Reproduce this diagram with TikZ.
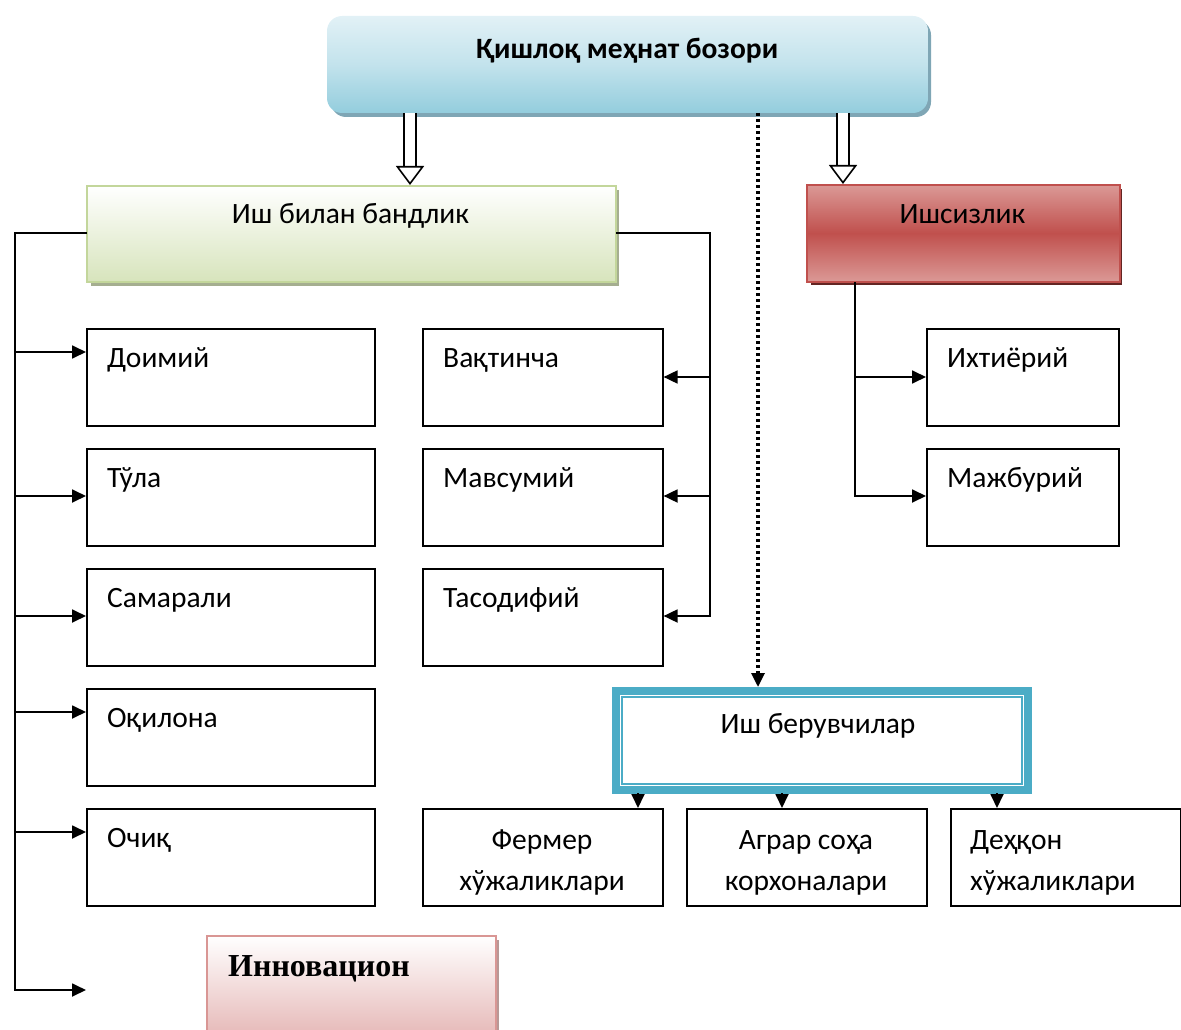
\documentclass[tikz,border=0pt]{standalone}
\usepackage{fontspec}
\setmainfont{Carlito}
\newfontfamily\serifb{Liberation Serif}
\usetikzlibrary{arrows.meta,calc}
\definecolor{bluetop}{HTML}{E2F1F6}
\definecolor{bluebot}{HTML}{93CDDD}
\definecolor{blueshadow}{HTML}{7FA6B5}
\definecolor{greentop}{HTML}{FFFFFF}
\definecolor{greenbot}{HTML}{D7E4BC}
\definecolor{greenedge}{HTML}{C3D69B}
\definecolor{greenshadow}{HTML}{A5AE90}
\definecolor{redlight}{HTML}{DB9996}
\definecolor{redmid}{HTML}{C0504D}
\definecolor{redshadow}{HTML}{632523}
\definecolor{pinktop}{HTML}{FFFFFF}
\definecolor{pinkbot}{HTML}{E6B9B8}
\definecolor{pinkedge}{HTML}{D99694}
\definecolor{pinkshadow}{HTML}{B89896}
\definecolor{tealedge}{HTML}{4BACC6}
\tikzset{
  x=1pt, y=-1pt,
  every node/.style={font=\fontsize{29.5}{42}\selectfont, inner sep=0pt},
  plainbox/.style={draw=black, line width=1.6pt, fill=white, anchor=north west},
  boxlab/.style={anchor=base west, xshift=21pt},
  conn/.style={line width=1.8pt, line cap=rect},
  arr/.style={conn, -{Triangle[length=14pt,width=13pt]}},
  hollow/.style={double=white, double distance=10.5pt, line width=1.6pt,
     -{Triangle[open, length=19pt, width=28pt, line width=1.6pt]}},
  dotline/.style={line width=3.2pt, dash pattern=on 3pt off 3pt,
     -{Triangle[length=14pt,width=13pt]}},
}
\begin{document}
\begin{tikzpicture}
\useasboundingbox (0,0) rectangle (1181,1030);

% top box
\fill[blueshadow, rounded corners=15pt] (331,20) rectangle (931,117);
\shade[rounded corners=15pt, top color=bluetop, bottom color=bluebot, middle color=bluetop!60!bluebot]
  (327,16) rectangle (928,113);
\node[font=\fontsize{29.5}{34}\selectfont\bfseries, anchor=base] (toptxt) at (627,59) {Қишлоқ меҳнат бозори};
\coordinate (topL) at (410,113);
\coordinate (topR) at (843,113);
\coordinate (topD) at (758,113);

% Иш билан бандлик
\fill[greenshadow] (91,190) rectangle (619,286);
\node[draw=greenedge, line width=1.5pt, top color=greentop, bottom color=greenbot,
      anchor=north west, minimum width=529pt, minimum height=96pt] (emp) at (86,185) {};
\node[anchor=base] (emptxt) at (350.5,223) {Иш билан бандлик};

% Ишсизлик
\fill[redshadow] (811,189) rectangle (1122,285);
\node[draw=redmid, line width=1.5pt, shading=axis, top color=redlight, bottom color=redlight, middle color=redmid,
      anchor=north west, minimum width=313pt, minimum height=97pt] (unemp) at (806,184) {};
\node[anchor=base] (unemptxt) at (962.5,223) {Ишсизлик};

% hollow arrows
\draw[hollow] (topL) -- (emp.north -| topL);
\draw[hollow] (topR) -- (unemp.north -| topR);

% left column boxes
\node[plainbox, minimum width=288pt, minimum height=97pt] (b1) at (86,328) {};
\node[plainbox, minimum width=288pt, minimum height=97pt] (b2) at (86,448) {};
\node[plainbox, minimum width=288pt, minimum height=97pt] (b3) at (86,568) {};
\node[plainbox, minimum width=288pt, minimum height=97pt] (b4) at (86,688) {};
\node[plainbox, minimum width=288pt, minimum height=97pt] (b5) at (86,808) {};
\node[boxlab] (t1) at ($(b1.north west)+(0,39)$) {Доимий};
\node[boxlab] (t2) at ($(b2.north west)+(0,39)$) {Тўла};
\node[boxlab] (t3) at ($(b3.north west)+(0,39)$) {Самарали};
\node[boxlab] (t4) at ($(b4.north west)+(0,39)$) {Оқилона};
\node[boxlab] (t5) at ($(b5.north west)+(0,39)$) {Очиқ};

% middle column boxes
\node[plainbox, minimum width=240pt, minimum height=97pt] (m1) at (422,328) {};
\node[plainbox, minimum width=240pt, minimum height=97pt] (m2) at (422,448) {};
\node[plainbox, minimum width=240pt, minimum height=97pt] (m3) at (422,568) {};
\node[boxlab] (s1) at ($(m1.north west)+(0,39)$) {Вақтинча};
\node[boxlab] (s2) at ($(m2.north west)+(0,39)$) {Мавсумий};
\node[boxlab] (s3) at ($(m3.north west)+(0,39)$) {Тасодифий};

% right column boxes
\node[plainbox, minimum width=192pt, minimum height=97pt] (r1) at (926,328) {};
\node[plainbox, minimum width=192pt, minimum height=97pt] (r2) at (926,448) {};
\node[boxlab] (u1) at ($(r1.north west)+(0,39)$) {Ихтиёрий};
\node[boxlab] (u2) at ($(r2.north west)+(0,39)$) {Мажбурий};

% Иш берувчилар
\node[draw=tealedge, line width=8pt, fill=white, anchor=north west,
      minimum width=412pt, minimum height=99pt] (empl) at (612,687) {};
\draw[tealedge, line width=1.6pt] ($(empl.north west)+(10,10)$) rectangle ($(empl.south east)+(-10,-10)$);
\node[anchor=base] (empltxt) at (818,733) {Иш берувчилар};

% bottom boxes
\node[plainbox, minimum width=240pt, minimum height=97pt] (f1) at (422,808) {};
\node[plainbox, minimum width=240pt, minimum height=97pt] (f2) at (686,808) {};
\node[plainbox, minimum width=230pt, minimum height=97pt] (f3) at (950,808) {};
\node[anchor=base] (f1a) at (542,849) {Фермер};
\node[anchor=base] (f1b) at (542,890) {хўжаликлари};
\node[anchor=base] (f2a) at (806,849) {Аграр соҳа};
\node[anchor=base] (f2b) at (806,890) {корхоналари};
\node[anchor=base west] (f3a) at (970,849) {Деҳқон};
\node[anchor=base west] (f3b) at (970,890) {хўжаликлари};

% Инновацион
\fill[pinkshadow] (211,940) rectangle (499,1034);
\node[draw=pinkedge, line width=1.5pt, top color=pinktop, bottom color=pinkbot,
      anchor=north west, minimum width=289pt, minimum height=100pt] (inno) at (206,935) {};
\node[anchor=base west, font=\fontsize{32}{38}\serifb\bfseries] (innotxt) at (228,976) {Инновацион};

% dotted connector
\draw[dotline] (topD) -- (empl.north -| topD);

% left bus
\coordinate (lb0) at (15,233);
\coordinate (lbE) at (15,990);
\coordinate (lbT) at (86,990);
\draw[conn] (emp.west |- lb0) -- (lb0) -- (lbE);
\draw[arr] (lbE) -- (lbT);
\foreach \n/\yy in {b1/352, b2/496, b3/616, b4/712, b5/832}{
  \draw[arr] (15,\yy) -- (\n.west |- 0,\yy);
}

% right bus of employment
\coordinate (rb0) at (710,233);
\coordinate (rbE) at (710,616);
\draw[conn] (emp.east |- rb0) -- (rb0) -- (rbE);
\foreach \n/\yy in {m1/377, m2/496, m3/616}{
  \draw[arr] (710,\yy) -- (\n.east |- 0,\yy);
}

% unemployment bus
\coordinate (ub0) at (855,281);
\coordinate (ubE) at (855,496);
\draw[conn] (unemp.south -| ub0) -- (ubE);
\foreach \n/\yy in {r1/377, r2/496}{
  \draw[arr] (855,\yy) -- (\n.west |- 0,\yy);
}

% employers to bottom boxes
\draw[arr] (empl.south -| 638,0) -- (f1.north -| 638,0);
\draw[arr] (empl.south -| 782,0) -- (f2.north -| 782,0);
\draw[arr] (empl.south -| 997,0) -- (f3.north -| 997,0);
\end{tikzpicture}
\end{document}
